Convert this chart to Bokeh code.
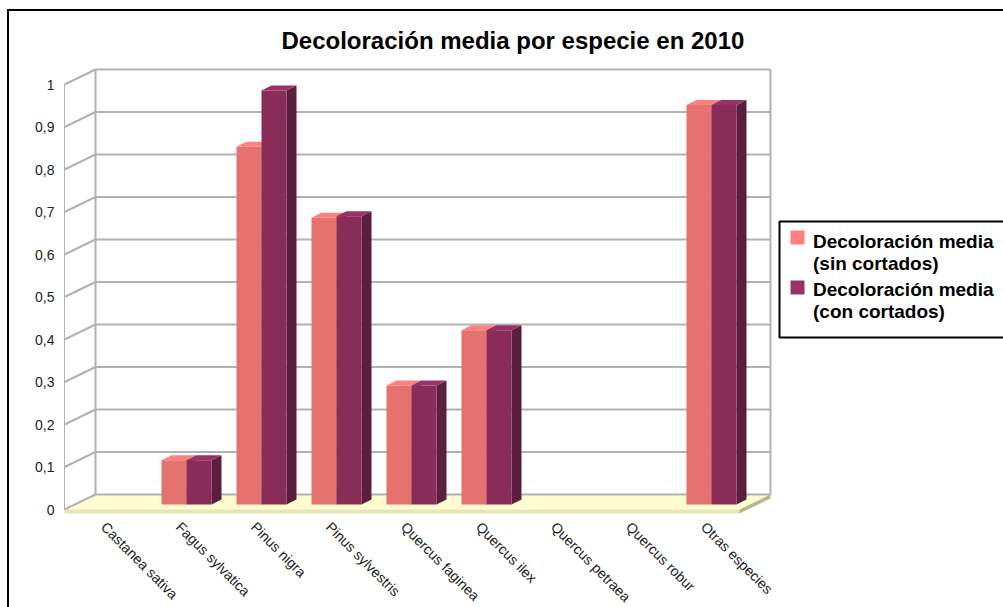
from math import pi
from bokeh.plotting import figure
from bokeh.models import Range1d, LinearAxis, FixedTicker, Legend, LegendItem, Title
from bokeh.embed import file_html
from bokeh.resources import INLINE

species = ["Castanea sativa", "Fagus sylvatica", "Pinus nigra", "Pinus sylvestris",
           "Quercus faginea", "Quercus ilex", "Quercus petraea", "Quercus robur", "Otras especies"]
sin_cortados = [None, 0.104, 0.842, 0.675, 0.28, 0.41, None, None, 0.94]
con_cortados = [None, 0.104, 0.974, 0.678, 0.28, 0.41, None, None, 0.94]
y_ticks = [0, 0.1, 0.2, 0.3, 0.4, 0.5, 0.6, 0.7, 0.8, 0.9, 1]
y_labels = {0: "0", 0.1: "0,1", 0.2: "0,2", 0.3: "0,3", 0.4: "0,4", 0.5: "0,5",
            0.6: "0,6", 0.7: "0,7", 0.8: "0,8", 0.9: "0,9", 1: "1"}
series_names = ["Decoloración media\n(sin cortados)", "Decoloración media\n(con cortados)"]

W, H = 1003, 607
FONT = "Liberation Sans"
# pixel layout of the pseudo-3D scene
PX_CAT = 75          # pixels per category
PX_VAL = 425         # pixels per unit of value
X_ZERO = 111         # x of category 0 centre, bar plane
Y_ZERO = 504         # y of value 0, bar plane
FRAME_L, FRAME_R, FRAME_T, FRAME_B = 60, W, 60, 515
to_x = lambda px: (px - X_ZERO) / PX_CAT
to_y = lambda py: (Y_ZERO - py) / PX_VAL

p = figure(width=W, height=H, frame_width=FRAME_R - FRAME_L, frame_height=FRAME_B - FRAME_T,
           output_backend="svg", toolbar_location=None,
           x_range=Range1d(to_x(FRAME_L), to_x(FRAME_R)),
           y_range=Range1d(to_y(FRAME_B), to_y(FRAME_T)),
           x_axis_type=None, y_axis_type=None,
           min_border_left=FRAME_L, min_border_right=0,
           min_border_top=FRAME_T, min_border_bottom=H - FRAME_B,
           background_fill_color=None, border_fill_color=None,
           outline_line_color=None)
p.grid.visible = False
p.styles = {"background": "linear-gradient(black,black) 7px 9px/2px 100% no-repeat,"
                          "linear-gradient(black,black) 7px 9px/100% 2px no-repeat,white"}

p.title = Title(text="Decoloración media por especie en 2010", align="left",
                offset=281 - FRAME_L, text_font=FONT, text_font_size="24px",
                text_font_style="bold", text_color="black", standoff=14)

# real axes on the front plane of the scene
p.extra_y_ranges = {"front": Range1d(to_y(FRAME_B) + 5 / PX_VAL, to_y(FRAME_T) + 5 / PX_VAL)}
p.extra_x_ranges = {"lab": Range1d(to_x(FRAME_L) + 8 / PX_CAT, to_x(FRAME_R) + 8 / PX_CAT)}
ya = LinearAxis(y_range_name="front", ticker=FixedTicker(ticks=y_ticks),
                major_label_overrides=y_labels, axis_line_color=None,
                major_tick_line_color=None, minor_tick_line_color=None,
                major_tick_out=0, major_tick_in=0,
                major_label_text_font=FONT, major_label_text_font_size="14px",
                major_label_text_color="#222222", major_label_standoff=6)
p.add_layout(ya, "left")
xa = LinearAxis(x_range_name="lab", ticker=FixedTicker(ticks=list(range(len(species)))),
                major_label_overrides=dict(enumerate(species)), axis_line_color=None,
                major_tick_line_color=None, minor_tick_line_color=None,
                major_tick_out=0, major_tick_in=0,
                major_label_orientation=-pi / 4,
                major_label_text_font=FONT, major_label_text_font_size="14.2px",
                major_label_text_color="#222222", major_label_standoff=9)
p.add_layout(xa, "below")

# scene offsets
fx0, fx1 = to_x(64), to_x(739)       # front-plane left / right
bdx, bdy = 31 / PX_CAT, 15 / PX_VAL  # front plane -> back wall
fy = -5 / PX_VAL                     # bar plane -> front plane, in value
GRID = "#b2b2b2"

# floor
y0 = fy
thick = 4 / PX_VAL
p.patch([fx0, fx1, fx1 + bdx, fx0 + bdx], [y0, y0, y0 + bdy, y0 + bdy], fill_color="#fffdcf", line_color=None)
p.patch([fx0, fx1, fx1, fx0], [y0, y0, y0 - thick, y0 - thick], fill_color="#e8e6b8", line_color=None)
p.patch([fx1, fx1 + bdx, fx1 + bdx, fx1], [y0, y0 + bdy, y0 + bdy - thick, y0 - thick],
        fill_color="#b9b78c", line_color=None)

# walls and grid
p.segment([fx0 + bdx, fx1 + bdx, fx0], [y0 + bdy] * 2 + [y0], [fx0 + bdx, fx1 + bdx, fx0],
          [1 + y0 + bdy] * 2 + [1 + y0], line_color=GRID, line_width=[2, 2, 1])
for v in y_ticks:
    p.line([fx0, fx0 + bdx, fx1 + bdx], [v + y0, v + y0 + bdy, v + y0 + bdy],
           line_color=GRID, line_width=2)

# bars
dx, dy = 10 / PX_CAT, 5 / PX_VAL
bw = 25 / PX_CAT
styles = [("#e5726f", "#ff8080", "#a8505a"), ("#8a2c58", "#993366", "#5b1f3e")]
for s, vals in enumerate([sin_cortados, con_cortados]):
    front, top, side = styles[s]
    idx = [i for i, v in enumerate(vals) if v is not None]
    lefts = [i - bw + s * bw for i in idx]
    rights = [l + bw for l in lefts]
    hs = [vals[i] for i in idx]
    p.patches([[r, r + dx, r + dx, r] for r in rights],
              [[0, dy, h + dy, h] for h in hs], fill_color=side, line_color=None)
    p.patches([[l, r, r + dx, l + dx] for l, r in zip(lefts, rights)],
              [[h, h, h + dy, h + dy] for h in hs], fill_color=top, line_color=None)
    p.quad(left=lefts, right=rights, bottom=[0] * len(hs), top=hs, fill_color=front, line_color=None)

# legend box, swatches aligned with each label's first line, labels in a real Legend
p.quad(left=[to_x(779)], right=[to_x(1015)], bottom=[to_y(337)], top=[to_y(221)],
       fill_color="white", line_color="black", line_width=2)
swatch_y = [230, 280]
swatches = []
for s in range(2):
    p.quad(left=[to_x(790)], right=[to_x(804)], bottom=[to_y(swatch_y[s] + 14)], top=[to_y(swatch_y[s])],
           fill_color=styles[s][1], line_color=None)
    swatches.append(p.quad(left=[to_x(790)], right=[to_x(804)], bottom=[to_y(swatch_y[s] + 14)],
                           top=[to_y(swatch_y[s])], fill_alpha=0, line_alpha=0))
legend = Legend(items=[LegendItem(label=series_names[i], renderers=[swatches[i]]) for i in range(2)],
                location=(778 - FRAME_L, FRAME_B - 333), orientation="vertical",
                border_line_color="black", border_line_alpha=0, background_fill_alpha=0,
                label_text_font=FONT, label_text_font_size="19px",
                label_text_font_style="bold", label_text_color="black", glyph_width=15, glyph_height=15,
                label_standoff=10, padding=10, spacing=4, margin=0)
p.add_layout(legend, "center")

open("out.html", "w").write(file_html(p, INLINE))
